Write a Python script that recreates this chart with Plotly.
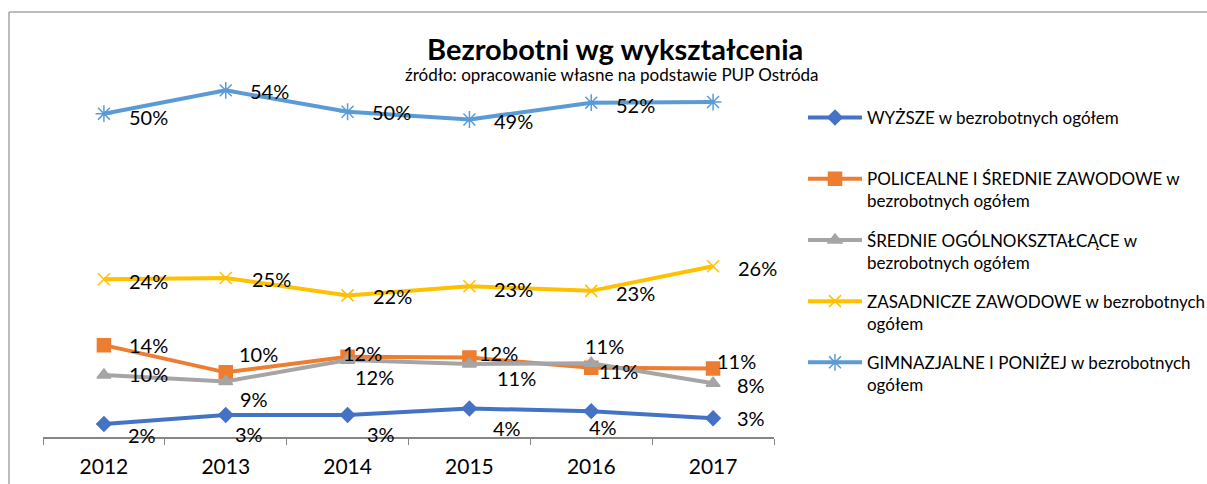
import plotly.graph_objects as go

# Unemployed by education level, share of all unemployed (PUP Ostróda)
years = ["2012", "2013", "2014", "2015", "2016", "2017"]
wyzsze = [0.020, 0.034, 0.034, 0.044, 0.040, 0.029]
policealne = [0.142, 0.100, 0.124, 0.123, 0.107, 0.106]
srednie_ogolne = [0.096, 0.086, 0.119, 0.113, 0.114, 0.083]
zasadnicze = [0.244, 0.246, 0.219, 0.233, 0.226, 0.264]
gimnazjalne = [0.500, 0.536, 0.503, 0.491, 0.517, 0.518]

series_names = [
    "WYŻSZE w bezrobotnych ogółem<br> ",
    "POLICEALNE I ŚREDNIE ZAWODOWE w<br>bezrobotnych ogółem",
    "ŚREDNIE OGÓLNOKSZTAŁCĄCE w<br>bezrobotnych ogółem",
    "ZASADNICZE ZAWODOWE w bezrobotnych<br>ogółem",
    "GIMNAZJALNE I PONIŻEJ w bezrobotnych<br>ogółem",
]
series_values = [wyzsze, policealne, srednie_ogolne, zasadnicze, gimnazjalne]

# styling per series
colors = ["#4472C4", "#ED7D31", "#A5A5A5", "#FFC000", "#5B9BD5"]
symbols = ["diamond", "square", "triangle-up", "x-thin-open", "asterisk-open"]
marker_sizes = [11, 13, 12, 12, 14]

# label offsets from the marker in pixels (dx to the label's left edge, dy down)
label_offsets = [
    [(22, 11), (7, 19), (17, 19), (22, 19), (-4, 16), (22, 0)],
    [(23, 0), (11, -18), (-7, -4), (8, -4), (6, 3), (2, -7)],
    [(23, -1), (12, 18), (5, 17), (26, 14), (-8, -17), (22, 2)],
    [(23, 2), (24, 1), (23, 1), (23, 3), (23, 2), (23, 2)],
    [(23, 3), (22, 1), (22, 0), (23, 2), (23, 2), None],
]

FONT = "Lato, 'Open Sans', sans-serif"
W, H = 1207, 484
PL, PR, PT, PB = 43, 774, 49, 437  # plot area in pixels


def px_x(p):
    return (p - PL) / (PR - PL)


def px_y(p):
    return (PB - p) / (PB - PT)


fig = go.Figure()
for name, vals, col, sym, ms in zip(series_names, series_values, colors, symbols, marker_sizes):
    fig.add_trace(go.Scatter(
        x=years, y=vals, name=name, legendgroup=name,
        mode="lines+markers",
        line=dict(color=col, width=4),
        marker=dict(symbol=sym, size=ms, color=col, line=dict(color=col, width=1.5)),
        hoverinfo="skip",
    ))

annotations = []
for vals, offs in zip(series_values, label_offsets):
    for idx, (v, off) in enumerate(zip(vals, offs)):
        if off is None:
            continue
        dx, dy = off
        annotations.append(dict(
            x=idx, y=v, xref="x", yref="y", text=f"{v:.0%}", showarrow=False,
            xanchor="left", yanchor="middle", xshift=dx, yshift=-dy,
            font=dict(family=FONT, size=20, color="#000000"),
        ))

annotations.append(dict(
    x=px_x(615), y=px_y(48), xref="paper", yref="paper", showarrow=False,
    text="<b>Bezrobotni wg wykształcenia</b>", xanchor="center", yanchor="middle",
    font=dict(family=FONT, size=29, color="#000000"),
))
annotations.append(dict(
    x=px_x(612), y=px_y(74), xref="paper", yref="paper", showarrow=False,
    text="źródło: opracowanie własne na podstawie PUP Ostróda", xanchor="center", yanchor="middle",
    font=dict(family=FONT, size=17, color="#000000"),
))

border = "#A6A6A6"
shapes = [
    dict(type="line", xref="paper", yref="paper", x0=px_x(9), x1=px_x(9), y0=px_y(12), y1=px_y(500),
         line=dict(color=border, width=1.5)),
    dict(type="line", xref="paper", yref="paper", x0=px_x(9), x1=px_x(1220), y0=px_y(12), y1=px_y(12),
         line=dict(color=border, width=1.5)),
]

fig.update_layout(
    width=W, height=H,
    margin=dict(l=PL, r=W - PR, t=PT, b=H - PB, pad=0, autoexpand=False),
    paper_bgcolor="white", plot_bgcolor="white",
    showlegend=True,
    legend=dict(
        x=px_x(803), y=px_y(100), xanchor="left", yanchor="top",
        font=dict(family=FONT, size=17, color="#000000"),
        valign="top", tracegroupgap=14, itemwidth=54, bgcolor="rgba(0,0,0,0)",
    ),
    xaxis=dict(
        type="category", categoryorder="array", categoryarray=years, range=[-0.5, 5.5],
        showline=True, linecolor="#868686", linewidth=1.5,
        ticks="outside", tickson="boundaries", ticklen=6, tickcolor="#868686", tickwidth=1,
        showgrid=False, zeroline=False, ticklabelstandoff=10,
        tickfont=dict(family=FONT, size=21, color="#000000"),
    ),
    yaxis=dict(range=[0, 0.6], visible=False, showgrid=False, zeroline=False),
    annotations=annotations,
    shapes=shapes,
)

fig.write_html("out.html")
